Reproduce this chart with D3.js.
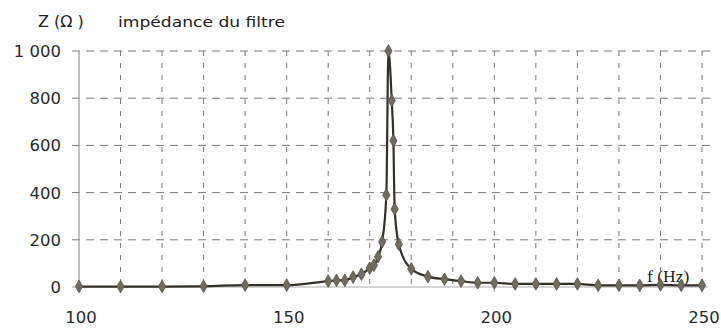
<!DOCTYPE html>
<html>
<head>
<meta charset="utf-8">
<script src="https://cdn.jsdelivr.net/npm/d3@7"></script>
<style>
  html, body { margin: 0; padding: 0; background: #fff; }
  svg { display: block; }
</style>
</head>
<body>
<svg id="chart" width="721" height="329"></svg>
<script>
// ---- data ----
const freq = [100, 110, 120, 130, 140, 150, 160, 162, 164, 166, 168, 170, 171, 172, 173, 174, 174.5, 175.3, 175.7, 176, 177, 180, 184, 188, 192, 196, 200, 205, 210, 215, 220, 225, 230, 235, 240, 245, 250];
const impedance = [2, 2, 2, 3, 8, 8, 25, 28, 28, 42, 54, 80, 92, 128, 192, 390, 1000, 790, 620, 330, 181, 77, 44, 33, 25, 18, 18, 13, 13, 13, 13, 7, 7, 7, 9, 7, 7];
const xTicks = [100, 150, 200, 250];
const xGrid = [110, 120, 130, 140, 150, 160, 170, 180, 190, 200, 210, 220, 230, 240, 250];
const yTicks = [0, 200, 400, 600, 800, 1000];
const yTickLabels = ["0", "200", "400", "600", "800", "1 000"];
const titleUnit = "Z (Ω )";
const titleText = "impédance du filtre";
const xAxisLabel = "f (Hz)";

// ---- layout ----
const svg = d3.select("#chart");
const x = d3.scaleLinear().domain([100, 250]).range([79, 702]);
const y = d3.scaleLinear().domain([0, 1000]).range([287, 51]);

const font = "'DejaVu Sans', sans-serif";

// horizontal grid
svg.append("g").selectAll("line").data(yTicks.filter(d => d > 0)).join("line")
  .attr("x1", 72).attr("x2", 710)
  .attr("y1", d => y(d)).attr("y2", d => y(d))
  .attr("stroke", "#777").attr("stroke-width", 1)
  .attr("stroke-dasharray", "8,6");

// vertical grid
svg.append("g").selectAll("line").data(xGrid).join("line")
  .attr("x1", d => x(d)).attr("x2", d => x(d))
  .attr("y1", y(1000)).attr("y2", y(0))
  .attr("stroke", "#777").attr("stroke-width", 1)
  .attr("stroke-dasharray", "5,7");

// axes
svg.append("line")
  .attr("x1", x(100)).attr("x2", x(100))
  .attr("y1", y(1000)).attr("y2", y(0))
  .attr("stroke", "#999").attr("stroke-width", 1.2);
svg.append("line")
  .attr("x1", 72).attr("x2", 708)
  .attr("y1", y(0)).attr("y2", y(0))
  .attr("stroke", "#aaa").attr("stroke-width", 1.2);
svg.append("g").selectAll("line").data(xTicks).join("line")
  .attr("x1", d => x(d)).attr("x2", d => x(d))
  .attr("y1", y(0)).attr("y2", y(0) + 5)
  .attr("stroke", "#999").attr("stroke-width", 1);

// y tick labels
svg.append("g").selectAll("text").data(yTicks).join("text")
  .attr("x", 61).attr("y", d => y(d))
  .attr("dy", "0.36em")
  .attr("text-anchor", "end")
  .attr("font-family", font).attr("font-size", 16.5)
  .attr("fill", "#2a2a2a")
  .text((d, i) => yTickLabels[i]);

// x tick labels
svg.append("g").selectAll("text").data(xTicks).join("text")
  .attr("x", d => x(d) + 2).attr("y", 323)
  .attr("text-anchor", "middle")
  .attr("font-family", font).attr("font-size", 16.5)
  .attr("fill", "#2a2a2a")
  .text(d => d);

// titles
svg.append("text").attr("x", 38).attr("y", 27)
  .attr("font-family", font).attr("font-size", 16)
  .attr("fill", "#222").text(titleUnit);
svg.append("text").attr("x", 118).attr("y", 27)
  .attr("font-family", font).attr("font-size", 14)
  .attr("textLength", 167).attr("lengthAdjust", "spacingAndGlyphs")
  .attr("fill", "#222").text(titleText);

// axis label
svg.append("text").attr("x", 647).attr("y", 282)
  .attr("font-family", "'Liberation Serif', 'DejaVu Serif', serif").attr("font-size", 17.5)
  .attr("fill", "#222").text(xAxisLabel);

// line
const data = freq.map((f, i) => ({ f, z: impedance[i] }));
svg.append("path").datum(data)
  .attr("fill", "none")
  .attr("stroke", "#332f29").attr("stroke-width", 2.2)
  .attr("d", d3.line().x(d => x(d.f)).y(d => y(d.z)).curve(d3.curveMonotoneX));

// markers
svg.append("g").selectAll("path").data(data).join("path")
  .attr("transform", d => `translate(${x(d.f)},${y(d.z)})`)
  .attr("d", d3.symbol().type(d3.symbolDiamond).size(46))
  .attr("fill", "#716c5e").attr("stroke", "#55514a").attr("stroke-width", 0.8);
</script>
</body>
</html>
